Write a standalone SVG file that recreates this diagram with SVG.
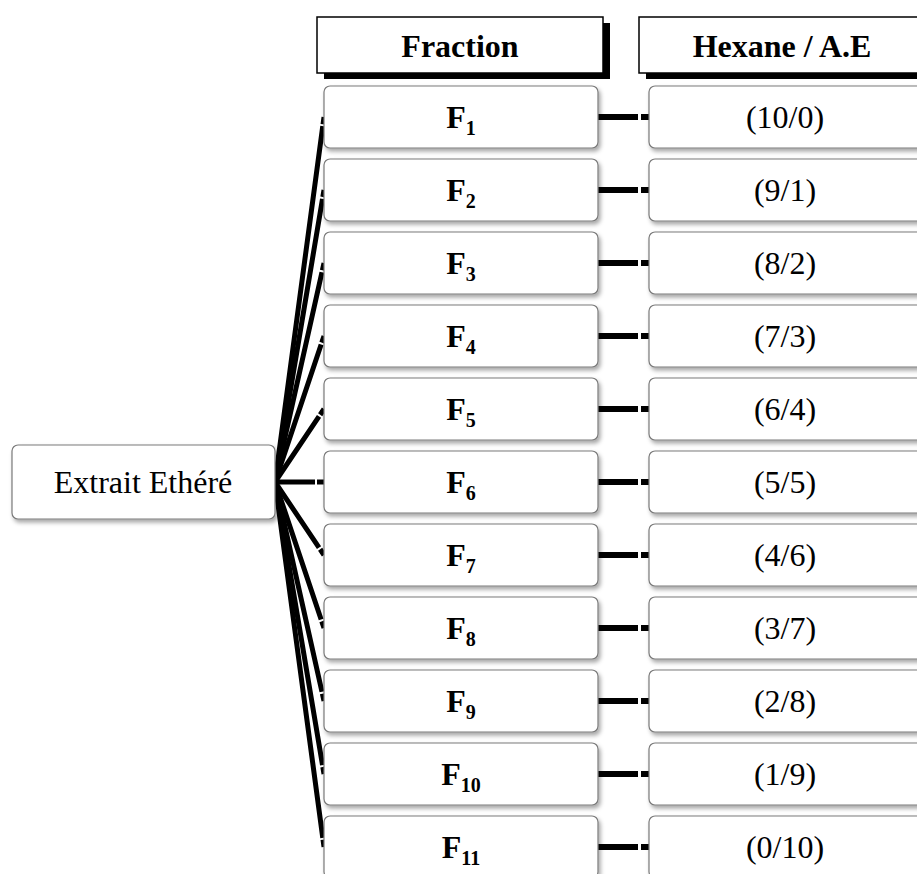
<svg xmlns="http://www.w3.org/2000/svg" width="917" height="874" viewBox="0 0 917 874">
<defs>
<filter id="sh" x="-10%" y="-20%" width="130%" height="150%">
<feDropShadow dx="2" dy="3" stdDeviation="2" flood-color="#000" flood-opacity="0.35"/>
</filter>
</defs>
<style>
.box{fill:#fff;stroke:#7a7a7a;stroke-width:1.2;filter:url(#sh)}
.hdr{fill:#fff;stroke:#000;stroke-width:1.5}
.hsh{fill:#000}
.t{font-family:"Liberation Serif","Times New Roman",serif;font-size:32px;fill:#000;text-anchor:middle}
.b{font-weight:bold}
.sub{font-size:20px}
.fan{stroke:#000;stroke-width:5;fill:none}
.lnk{stroke:#000;stroke-width:6;fill:none}
</style>
<rect width="917" height="874" fill="#fff"/>
<g id="connectors">
<line class="fan" x1="275" y1="482" x2="324" y2="117" stroke-dasharray="359 2 20"/>
<line class="fan" x1="275" y1="482" x2="324" y2="190" stroke-dasharray="287 2 20"/>
<line class="fan" x1="275" y1="482" x2="324" y2="263" stroke-dasharray="215 2 20"/>
<line class="fan" x1="275" y1="482" x2="324" y2="336" stroke-dasharray="145 2 20"/>
<line class="fan" x1="275" y1="482" x2="324" y2="409" stroke-dasharray="79 2 20"/>
<line class="fan" x1="275" y1="482" x2="324" y2="482" stroke-dasharray="40 2 20"/>
<line class="fan" x1="275" y1="482" x2="324" y2="555" stroke-dasharray="79 2 20"/>
<line class="fan" x1="275" y1="482" x2="324" y2="628" stroke-dasharray="145 2 20"/>
<line class="fan" x1="275" y1="482" x2="324" y2="701" stroke-dasharray="215 2 20"/>
<line class="fan" x1="275" y1="482" x2="324" y2="774" stroke-dasharray="287 2 20"/>
<line class="fan" x1="275" y1="482" x2="324" y2="847" stroke-dasharray="359 2 20"/>
<line class="lnk" x1="598" y1="117" x2="649" y2="117" stroke-dasharray="40 3 20"/>
<line class="lnk" x1="598" y1="190" x2="649" y2="190" stroke-dasharray="40 3 20"/>
<line class="lnk" x1="598" y1="263" x2="649" y2="263" stroke-dasharray="40 3 20"/>
<line class="lnk" x1="598" y1="336" x2="649" y2="336" stroke-dasharray="40 3 20"/>
<line class="lnk" x1="598" y1="409" x2="649" y2="409" stroke-dasharray="40 3 20"/>
<line class="lnk" x1="598" y1="482" x2="649" y2="482" stroke-dasharray="40 3 20"/>
<line class="lnk" x1="598" y1="555" x2="649" y2="555" stroke-dasharray="40 3 20"/>
<line class="lnk" x1="598" y1="628" x2="649" y2="628" stroke-dasharray="40 3 20"/>
<line class="lnk" x1="598" y1="701" x2="649" y2="701" stroke-dasharray="40 3 20"/>
<line class="lnk" x1="598" y1="774" x2="649" y2="774" stroke-dasharray="40 3 20"/>
<line class="lnk" x1="598" y1="847" x2="649" y2="847" stroke-dasharray="40 3 20"/>
</g>
<g id="hdr-fraction">
<rect class="hsh" x="324" y="23" width="286" height="56"/>
<rect class="hdr" x="317" y="17" width="286" height="56"/>
<text class="t b" x="460" y="57">Fraction</text>
</g>
<g id="hdr-hexane">
<rect class="hsh" x="646" y="23" width="286" height="56"/>
<rect class="hdr" x="639" y="17" width="286" height="56"/>
<text class="t b" x="782" y="57">Hexane / A.E</text>
</g>
<g id="extrait">
<rect class="box" x="12" y="445" width="263" height="74" rx="6"/>
<text class="t" x="143" y="493">Extrait Ethéré</text>
</g>
<g id="F1"><rect class="box" x="324" y="86" width="274" height="62" rx="6"/><text class="t b" x="461" y="128">F<tspan class="sub" dy="7">1</tspan></text></g>
<g id="F2"><rect class="box" x="324" y="159" width="274" height="62" rx="6"/><text class="t b" x="461" y="201">F<tspan class="sub" dy="7">2</tspan></text></g>
<g id="F3"><rect class="box" x="324" y="232" width="274" height="62" rx="6"/><text class="t b" x="461" y="274">F<tspan class="sub" dy="7">3</tspan></text></g>
<g id="F4"><rect class="box" x="324" y="305" width="274" height="62" rx="6"/><text class="t b" x="461" y="347">F<tspan class="sub" dy="7">4</tspan></text></g>
<g id="F5"><rect class="box" x="324" y="378" width="274" height="62" rx="6"/><text class="t b" x="461" y="420">F<tspan class="sub" dy="7">5</tspan></text></g>
<g id="F6"><rect class="box" x="324" y="451" width="274" height="62" rx="6"/><text class="t b" x="461" y="493">F<tspan class="sub" dy="7">6</tspan></text></g>
<g id="F7"><rect class="box" x="324" y="524" width="274" height="62" rx="6"/><text class="t b" x="461" y="566">F<tspan class="sub" dy="7">7</tspan></text></g>
<g id="F8"><rect class="box" x="324" y="597" width="274" height="62" rx="6"/><text class="t b" x="461" y="639">F<tspan class="sub" dy="7">8</tspan></text></g>
<g id="F9"><rect class="box" x="324" y="670" width="274" height="62" rx="6"/><text class="t b" x="461" y="712">F<tspan class="sub" dy="7">9</tspan></text></g>
<g id="F10"><rect class="box" x="324" y="743" width="274" height="62" rx="6"/><text class="t b" x="461" y="785">F<tspan class="sub" dy="7">10</tspan></text></g>
<g id="F11"><rect class="box" x="324" y="816" width="274" height="62" rx="6"/><text class="t b" x="461" y="858">F<tspan class="sub" dy="7">11</tspan></text></g>
<g id="V1"><rect class="box" x="649" y="86" width="280" height="62" rx="6"/><text class="t" x="785" y="128">(10/0)</text></g>
<g id="V2"><rect class="box" x="649" y="159" width="280" height="62" rx="6"/><text class="t" x="785" y="201">(9/1)</text></g>
<g id="V3"><rect class="box" x="649" y="232" width="280" height="62" rx="6"/><text class="t" x="785" y="274">(8/2)</text></g>
<g id="V4"><rect class="box" x="649" y="305" width="280" height="62" rx="6"/><text class="t" x="785" y="347">(7/3)</text></g>
<g id="V5"><rect class="box" x="649" y="378" width="280" height="62" rx="6"/><text class="t" x="785" y="420">(6/4)</text></g>
<g id="V6"><rect class="box" x="649" y="451" width="280" height="62" rx="6"/><text class="t" x="785" y="493">(5/5)</text></g>
<g id="V7"><rect class="box" x="649" y="524" width="280" height="62" rx="6"/><text class="t" x="785" y="566">(4/6)</text></g>
<g id="V8"><rect class="box" x="649" y="597" width="280" height="62" rx="6"/><text class="t" x="785" y="639">(3/7)</text></g>
<g id="V9"><rect class="box" x="649" y="670" width="280" height="62" rx="6"/><text class="t" x="785" y="712">(2/8)</text></g>
<g id="V10"><rect class="box" x="649" y="743" width="280" height="62" rx="6"/><text class="t" x="785" y="785">(1/9)</text></g>
<g id="V11"><rect class="box" x="649" y="816" width="280" height="62" rx="6"/><text class="t" x="785" y="858">(0/10)</text></g>
</svg>
